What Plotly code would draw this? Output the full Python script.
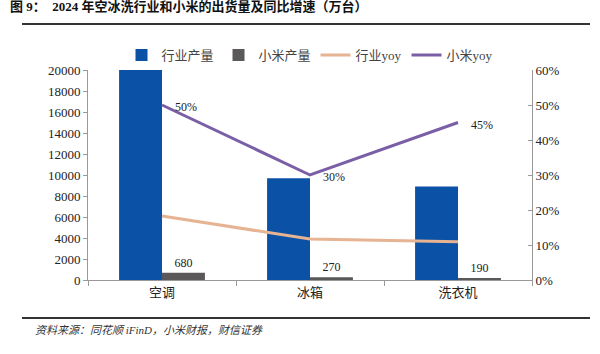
import plotly.graph_objects as go

categories = ["空调", "冰箱", "洗衣机"]
industry_output = [20000, 9700, 8900]
xiaomi_output = [680, 270, 190]
industry_yoy = [0.183, 0.117, 0.109]
xiaomi_yoy = [0.50, 0.30, 0.45]
xiaomi_yoy_labels = ["50%", "30%", "45%"]

SERIF = "Liberation Serif, Times New Roman, Noto Sans CJK SC, serif"
BLUE = "#0b52a6"
GRAY = "#5b5859"
ORANGE = "#e6b393"
PURPLE = "#7a5fa6"

fig = go.Figure()
fig.add_trace(go.Bar(x=categories, y=industry_output, name="行业产量",
                     marker=dict(color=BLUE, line=dict(width=0))))
fig.add_trace(go.Bar(x=categories, y=xiaomi_output, name="小米产量",
                     marker=dict(color=GRAY, line=dict(width=0)),
                     text=[str(v) for v in xiaomi_output], textposition="outside",
                     textfont=dict(family=SERIF, size=12, color="#222"),
                     cliponaxis=False))
fig.add_trace(go.Scatter(x=categories, y=industry_yoy, name="行业yoy", yaxis="y2",
                         mode="lines", line=dict(color=ORANGE, width=3)))
fig.add_trace(go.Scatter(x=categories, y=xiaomi_yoy, name="小米yoy", yaxis="y2",
                         mode="lines", line=dict(color=PURPLE, width=3)))

for c, v, t in zip(categories, xiaomi_yoy, xiaomi_yoy_labels):
    fig.add_annotation(x=c, y=v, xref="x", yref="y2", text=t, showarrow=False,
                       xanchor="left", yanchor="middle", xshift=11, yshift=-2,
                       font=dict(family=SERIF, size=12, color="#222"))

fig.update_layout(
    width=600, height=354,
    margin=dict(l=88, r=68, t=70, b=74),
    paper_bgcolor="white", plot_bgcolor="white",
    barmode="group", bargap=0.42, bargroupgap=0,
    font=dict(family=SERIF, size=12, color="#222"),
    showlegend=True,
    legend=dict(orientation="h", x=0.5, xanchor="center", y=1.0, yanchor="bottom",
                font=dict(family=SERIF, size=13, color="#444"),
                itemwidth=30, tracegroupgap=0, bgcolor="rgba(0,0,0,0)"),
    xaxis=dict(showline=True, linecolor="#999", linewidth=1, ticks="outside",
               tickson="boundaries", ticklen=5, tickcolor="#999",
               tickfont=dict(family=SERIF, size=13, color="#222"),
               showgrid=False),
    yaxis=dict(range=[0, 20000], dtick=2000, showline=True, linecolor="#999",
               ticks="outside", ticklen=4, tickcolor="#999", showgrid=False,
               zeroline=False, tickformat="d",
               tickfont=dict(family=SERIF, size=13, color="#222")),
    yaxis2=dict(range=[0, 0.6], dtick=0.1, overlaying="y", side="right",
                showline=True, linecolor="#999", ticks="inside", ticklen=4,
                tickcolor="#999", showgrid=False, zeroline=False, tickformat=".0%",
                tickfont=dict(family=SERIF, size=13, color="#222")),
)

fig.add_annotation(xref="paper", yref="paper", x=-0.18, y=1.3, xanchor="left", yanchor="middle",
                   text="<b>图 9：  2024 年空冰洗行业和小米的出货量及同比增速（万台）</b>",
                   showarrow=False, font=dict(family=SERIF, size=13, color="#111"))
# horizontal rules as thin filled annotation boxes
for yy in (1.22, -0.18):
    fig.add_annotation(xref="paper", yref="paper", x=-0.148, y=yy, xanchor="left",
                       yanchor="middle", text=" ", showarrow=False, width=568, height=2,
                       borderpad=0, borderwidth=0, bgcolor="#333333",
                       font=dict(size=1))
fig.add_annotation(xref="paper", yref="paper", x=-0.125, y=-0.24, xanchor="left", yanchor="middle",
                   text="<i>资料来源：同花顺 iFinD，小米财报，财信证券</i>",
                   showarrow=False, font=dict(family=SERIF, size=11, color="#333"))

fig.write_html("out.html")
